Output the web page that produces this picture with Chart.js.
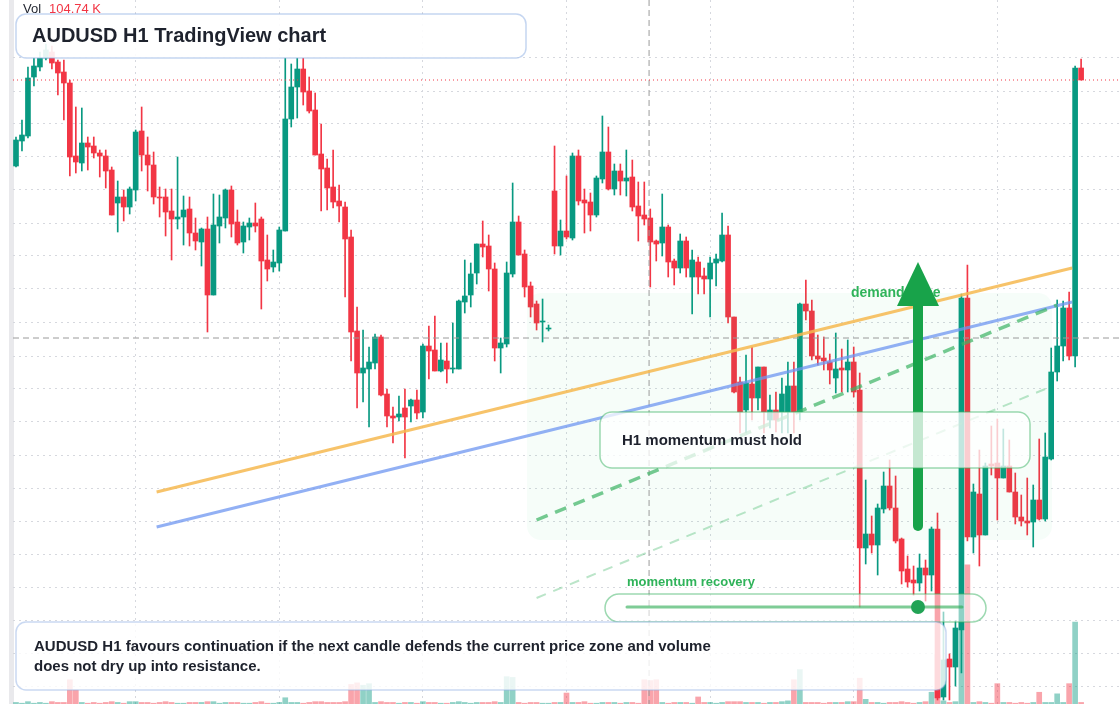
<!DOCTYPE html>
<html>
<head>
<meta charset="utf-8">
<script src="https://cdn.jsdelivr.net/npm/chart.js@4"></script>
<style>
  html, body { margin: 0; padding: 0; background: #fff; }
  #wrap { position: relative; width: 1120px; height: 704px; }
</style>
</head>
<body>
<div id="wrap"><canvas id="chart" width="1120" height="704"></canvas></div>
<script>
// AUDUSD H1 candles
const opens = [0.6834,0.6859,0.6864,0.6923,0.6933,0.6942,0.6948,0.6938,0.6928,0.6917,0.6844,0.6837,0.6857,0.6854,0.6847,0.6844,0.6830,0.6797,0.6803,0.6793,
  0.6810,0.6869,0.6845,0.6835,0.6803,0.6803,0.6789,0.6781,0.6783,0.6791,0.6767,0.6758,0.6771,0.6705,0.6774,0.6782,0.6810,0.6778,0.6758,0.6773,
  0.6777,0.6781,0.6740,0.6733,0.6737,0.6769,0.6881,0.6913,0.6931,0.6909,0.6890,0.6846,0.6832,0.6813,0.6799,0.6793,0.6763,0.6669,0.6627,0.6631,
  0.6637,0.6663,0.6606,0.6584,0.6583,0.6592,0.6594,0.6600,0.6588,0.6654,0.6650,0.6629,0.6639,0.6631,0.6631,0.6698,0.6705,0.6727,0.6756,0.6754,
  0.6731,0.6652,0.6656,0.6726,0.6778,0.6746,0.6714,0.6696,0.6678,0.6671,0.6809,0.6754,0.6769,0.6762,0.6844,0.6800,0.6798,0.6785,0.6821,0.6848,
  0.6811,0.6829,0.6819,0.6823,0.6794,0.6785,0.6782,0.6759,0.6757,0.6773,0.6739,0.6732,0.6759,0.6723,0.6738,0.6724,0.6721,0.6737,0.6739,0.6765,
  0.6683,0.6618,0.6590,0.6616,0.6602,0.6633,0.6580,0.6590,0.6588,0.6588,0.6614,0.6588,0.6696,0.6689,0.6644,0.6642,0.6638,0.6622,0.6632,0.6630,
  0.6638,0.6610,0.6452,0.6466,0.6455,0.6491,0.6514,0.6492,0.6461,0.6431,0.6420,0.6417,0.6432,0.6425,0.6471,0.6303,0.6341,0.6333,0.6370,0.6702,
  0.6463,0.6506,0.6465,0.6536,0.6537,0.6522,0.6534,0.6508,0.6483,0.6479,0.6478,0.6500,0.6481,0.6541,0.6628,0.6654,0.6692,0.6644,0.6932];
const highs = [0.6863,0.6880,0.6933,0.6942,0.6948,0.6956,0.6954,0.6940,0.6940,0.6920,0.6893,0.6892,0.6863,0.6863,0.6850,0.6850,0.6833,0.6819,0.6810,0.6813,
  0.6870,0.6893,0.6863,0.6848,0.6813,0.6811,0.6811,0.6843,0.6804,0.6803,0.6782,0.6772,0.6783,0.6806,0.6805,0.6811,0.6814,0.6790,0.6778,0.6782,
  0.6797,0.6783,0.6765,0.6750,0.6773,0.6942,0.6936,0.6942,0.6942,0.6923,0.6907,0.6876,0.6841,0.6850,0.6815,0.6798,0.6770,0.6693,0.6670,0.6653,
  0.6666,0.6665,0.6611,0.6593,0.6604,0.6611,0.6601,0.6610,0.6656,0.6674,0.6684,0.6657,0.6657,0.6677,0.6700,0.6740,0.6737,0.6756,0.6779,0.6765,
  0.6737,0.6662,0.6738,0.6817,0.6784,0.6750,0.6718,0.6699,0.6701,0.6675,0.6854,0.6780,0.6824,0.6847,0.6850,0.6811,0.6807,0.6824,0.6884,0.6873,
  0.6836,0.6836,0.6850,0.6840,0.6818,0.6818,0.6791,0.6760,0.6806,0.6775,0.6741,0.6766,0.6763,0.6750,0.6743,0.6732,0.6743,0.6746,0.6787,0.6774,
  0.6683,0.6623,0.6645,0.6653,0.6633,0.6633,0.6605,0.6608,0.6622,0.6638,0.6638,0.6697,0.6720,0.6700,0.6665,0.6663,0.6646,0.6667,0.6651,0.6660,
  0.6653,0.6627,0.6520,0.6484,0.6496,0.6528,0.6540,0.6524,0.6462,0.6444,0.6434,0.6446,0.6440,0.6473,0.6487,0.6388,0.6346,0.6379,0.6706,0.6735,
  0.6516,0.6550,0.6537,0.6574,0.6581,0.6571,0.6560,0.6527,0.6505,0.6522,0.6515,0.6561,0.6567,0.6652,0.6700,0.6699,0.6708,0.6934,0.6941];
const lows = [0.6833,0.6849,0.6862,0.6914,0.6929,0.6940,0.6931,0.6905,0.6880,0.6824,0.6827,0.6829,0.6830,0.6842,0.6823,0.6812,0.6785,0.6768,0.6779,0.6786,
  0.6799,0.6829,0.6809,0.6796,0.6783,0.6764,0.6740,0.6771,0.6755,0.6754,0.6750,0.6734,0.6668,0.6705,0.6757,0.6772,0.6763,0.6755,0.6747,0.6760,
  0.6768,0.6691,0.6719,0.6728,0.6729,0.6769,0.6873,0.6882,0.6895,0.6887,0.6845,0.6789,0.6790,0.6792,0.6778,0.6703,0.6639,0.6592,0.6598,0.6573,
  0.6631,0.6604,0.6573,0.6557,0.6579,0.6542,0.6578,0.6581,0.6582,0.6621,0.6629,0.6628,0.6617,0.6627,0.6631,0.6687,0.6693,0.6716,0.6743,0.6709,
  0.6639,0.6627,0.6653,0.6723,0.6745,0.6703,0.6683,0.6670,0.6658,0.6669,0.6746,0.6745,0.6761,0.6760,0.6795,0.6767,0.6769,0.6783,0.6817,0.6810,
  0.6805,0.6805,0.6804,0.6789,0.6759,0.6775,0.6713,0.6739,0.6744,0.6723,0.6715,0.6727,0.6723,0.6686,0.6706,0.6706,0.6683,0.6714,0.6738,0.6677,
  0.6607,0.6567,0.6567,0.6580,0.6590,0.6567,0.6572,0.6568,0.6567,0.6567,0.6567,0.6580,0.6680,0.6640,0.6635,0.6630,0.6616,0.6607,0.6608,0.6608,
  0.6603,0.6393,0.6436,0.6447,0.6425,0.6487,0.6490,0.6457,0.6416,0.6413,0.6405,0.6409,0.6399,0.6409,0.6300,0.6300,0.6300,0.6314,0.6327,0.6459,
  0.6447,0.6434,0.6465,0.6525,0.6480,0.6522,0.6508,0.6476,0.6474,0.6465,0.6453,0.6480,0.6479,0.6540,0.6619,0.6639,0.6640,0.6633,0.6920];
const closes = [0.6860,0.6865,0.6922,0.6934,0.6942,0.6950,0.6937,0.6927,0.6917,0.6843,0.6838,0.6857,0.6853,0.6847,0.6844,0.6829,0.6785,0.6803,0.6793,0.6811,
  0.6868,0.6845,0.6835,0.6803,0.6802,0.6788,0.6781,0.6783,0.6790,0.6767,0.6759,0.6771,0.6705,0.6775,0.6783,0.6810,0.6776,0.6757,0.6774,0.6777,
  0.6774,0.6739,0.6731,0.6738,0.6770,0.6881,0.6913,0.6931,0.6908,0.6889,0.6845,0.6831,0.6812,0.6798,0.6794,0.6761,0.6668,0.6627,0.6632,0.6638,
  0.6663,0.6605,0.6584,0.6582,0.6586,0.6583,0.6600,0.6587,0.6654,0.6649,0.6629,0.6640,0.6631,0.6632,0.6699,0.6704,0.6726,0.6756,0.6753,0.6731,
  0.6652,0.6657,0.6727,0.6778,0.6745,0.6713,0.6693,0.6677,0.6679,0.6672,0.6754,0.6769,0.6763,0.6844,0.6799,0.6797,0.6785,0.6822,0.6848,0.6811,
  0.6829,0.6819,0.6822,0.6793,0.6784,0.6781,0.6758,0.6756,0.6773,0.6738,0.6732,0.6759,0.6732,0.6740,0.6723,0.6721,0.6737,0.6741,0.6765,0.6683,
  0.6608,0.6588,0.6617,0.6602,0.6633,0.6588,0.6590,0.6580,0.6606,0.6614,0.6588,0.6696,0.6689,0.6644,0.6641,0.6639,0.6630,0.6631,0.6630,0.6638,
  0.6608,0.6452,0.6466,0.6455,0.6492,0.6514,0.6492,0.6459,0.6429,0.6418,0.6417,0.6432,0.6425,0.6471,0.6302,0.6340,0.6333,0.6372,0.6702,0.6463,
  0.6508,0.6465,0.6534,0.6534,0.6522,0.6534,0.6508,0.6483,0.6479,0.6477,0.6500,0.6481,0.6543,0.6628,0.6654,0.6692,0.6644,0.6932,0.6920];
// volume in thousands
const volumes = [2,1,3,1,2,1,3,2,2,31,18,2,1,2,1,2,3,2,1,3,
  3,2,2,1,2,3,2,1,1,2,2,2,3,3,1,2,2,2,1,1,
  2,3,1,1,2,8,2,2,1,2,3,3,2,2,2,3,25,27,24,26,
  2,3,2,2,1,2,2,1,3,2,2,1,1,2,3,2,1,2,2,2,
  3,2,35,34,2,1,2,2,1,1,2,2,14,2,2,3,1,1,2,2,
  2,1,2,2,1,31,30,31,2,1,2,2,2,1,9,2,2,1,2,3,
  3,3,2,2,2,1,2,2,3,4,31,44,2,2,2,1,2,2,2,3,
  3,33,6,2,2,1,2,2,3,2,1,2,3,15,63,4,2,3,105,178,
  2,3,2,1,26,2,2,1,2,1,2,15,2,2,13,2,26,104.74,2];

const slotCount = 185;             // a few empty slots on the right
const gridSlots = [20, 44, 68, 92, 116, 140, 164];
const gridPrices = [0.6942,0.6909,0.6876,0.6843,0.6810,0.6777,0.6744,0.6711,0.6678,0.6644,
  0.6611,0.6578,0.6545,0.6512,0.6479,0.6446,0.6413,0.6380,0.6347,0.6314];

// annotation lines: [slot, price] endpoints
const orangeLine = [[23.5, 0.6508], [176.5, 0.6732]];
const blueLine = [[23.5, 0.6473], [176.5, 0.6698]];
const greenDash = [[87, 0.6480], [174, 0.6695]];
const greenDashLight = [[87, 0.6402], [172, 0.6611]];
const crossSlot = 105.8, crossPrice = 0.6662;

const UP = '#089981', DOWN = '#f23645';
const labels = Array.from({ length: slotCount }, (_, i) => String(i));
const isUp = opens.map((o, i) => closes[i] >= o);
const candleColors = isUp.map(u => u ? UP : DOWN);
const volColors = isUp.map(u => u ? 'rgba(8,153,129,0.45)' : 'rgba(242,54,69,0.45)');

const overlay = {
  id: 'overlay',
  beforeDraw(chart) {
    const ctx = chart.ctx;
    ctx.save();
    ctx.fillStyle = '#e9e9ec';
    ctx.fillRect(9, 0, 5, 704);
    ctx.restore();
  },
  afterDatasetsDraw(chart) {
    const ctx = chart.ctx, xs = chart.scales.x, ys = chart.scales.y;
    const px = s => xs.getPixelForValue(s);
    const py = p => ys.getPixelForValue(p);
    const seg = (pts, color, w, dash) => {
      ctx.save();
      ctx.strokeStyle = color; ctx.lineWidth = w; ctx.setLineDash(dash || []);
      ctx.beginPath();
      ctx.moveTo(px(pts[0][0]), py(pts[0][1]));
      ctx.lineTo(px(pts[1][0]), py(pts[1][1]));
      ctx.stroke();
      ctx.restore();
    };
    ctx.save();
    // demand zone
    ctx.fillStyle = 'rgba(34,197,94,0.04)';
    ctx.beginPath(); ctx.roundRect(527, 293, 525, 247, 14); ctx.fill();
    // crosshair + last price
    ctx.strokeStyle = '#9a9a9a'; ctx.lineWidth = 1; ctx.setLineDash([6, 4]);
    ctx.beginPath();
    ctx.moveTo(13, py(crossPrice)); ctx.lineTo(1120, py(crossPrice));
    ctx.moveTo(px(crossSlot), 0); ctx.lineTo(px(crossSlot), 704);
    ctx.stroke();
    ctx.strokeStyle = DOWN; ctx.setLineDash([1, 3]);
    const last = closes[closes.length - 1];
    ctx.beginPath(); ctx.moveTo(13, py(last)); ctx.lineTo(1120, py(last)); ctx.stroke();
    ctx.restore();

    seg(orangeLine, 'rgba(246,184,80,0.85)', 3);
    seg(blueLine, 'rgba(110,150,240,0.75)', 3);
    seg(greenDash, 'rgba(60,180,100,0.7)', 3.5, [12, 8]);
    seg(greenDashLight, 'rgba(60,180,100,0.35)', 2, [10, 8]);

    ctx.save();
    ctx.font = 'bold 14px "Liberation Sans", Arial, sans-serif';
    ctx.fillStyle = '#2fb35a';
    ctx.textBaseline = 'middle';
    ctx.fillText('demand zone', 851, 293);
    // arrow
    ctx.strokeStyle = '#18a34a'; ctx.fillStyle = '#18a34a';
    ctx.lineWidth = 10; ctx.lineCap = 'round';
    ctx.beginPath(); ctx.moveTo(918, 526); ctx.lineTo(918, 300); ctx.stroke();
    ctx.beginPath(); ctx.moveTo(918, 262); ctx.lineTo(939, 306); ctx.lineTo(897, 306); ctx.closePath(); ctx.fill();

    const box = (x, y, w, h, r, stroke, fill) => {
      ctx.beginPath(); ctx.roundRect(x, y, w, h, r);
      ctx.fillStyle = fill; ctx.fill();
      ctx.lineWidth = 1.5; ctx.strokeStyle = stroke; ctx.stroke();
    };
    box(600, 412, 430, 56, 12, 'rgba(60,180,100,0.5)', 'rgba(255,255,255,0.75)');
    ctx.fillStyle = '#1e222d'; ctx.font = 'bold 15px "Liberation Sans", Arial, sans-serif';
    ctx.fillText('H1 momentum must hold', 622, 441);

    ctx.fillStyle = '#2fb35a'; ctx.font = 'bold 13px "Liberation Sans", Arial, sans-serif';
    ctx.fillText('momentum recovery', 627, 582);
    box(605, 594, 381, 28, 14, 'rgba(60,180,100,0.5)', 'rgba(255,255,255,0.55)');
    ctx.strokeStyle = 'rgba(40,170,80,0.6)'; ctx.lineWidth = 3; ctx.lineCap = 'round';
    ctx.beginPath(); ctx.moveTo(627, 607); ctx.lineTo(962, 607); ctx.stroke();
    ctx.fillStyle = '#22a355';
    ctx.beginPath(); ctx.arc(918, 607, 7, 0, Math.PI * 2); ctx.fill();

    box(16, 622, 930, 68, 10, 'rgba(150,180,230,0.5)', 'rgba(255,255,255,0.82)');
    ctx.fillStyle = '#1e222d'; ctx.font = 'bold 15px "Liberation Sans", Arial, sans-serif';
    ctx.fillText('AUDUSD H1 favours continuation if the next candle defends the current price zone and volume', 34, 647);
    ctx.fillText('does not dry up into resistance.', 34, 667);

    box(16, 14, 510, 44, 10, 'rgba(150,180,230,0.55)', 'rgba(255,255,255,0.9)');
    ctx.fillStyle = '#1e222d'; ctx.font = 'bold 20px "Liberation Sans", Arial, sans-serif';
    ctx.fillText('AUDUSD H1 TradingView chart', 32, 36);

    ctx.font = '13px "Liberation Sans", Arial, sans-serif';
    ctx.fillStyle = '#1e222d'; ctx.fillText('Vol', 23, 9);
    ctx.fillStyle = DOWN; ctx.fillText(volumes[177] + ' K', 49, 9);
    ctx.restore();
  }
};

new Chart(document.getElementById('chart'), {
  type: 'bar',
  data: {
    labels: labels,
    datasets: [
      { data: opens.map((o, i) => [o, closes[i] === o ? o + 0.00005 : closes[i]]), backgroundColor: candleColors,
        barThickness: 5, grouped: false, order: 1, yAxisID: 'y' },
      { data: lows.map((l, i) => [l, highs[i]]), backgroundColor: candleColors,
        barThickness: 1, grouped: false, order: 2, yAxisID: 'y' },
      { data: volumes, backgroundColor: volColors, barThickness: 5, grouped: false, order: 3, yAxisID: 'yv' }
    ]
  },
  options: {
    responsive: false,
    animation: false,
    layout: { padding: { left: 13, right: 0, top: 0, bottom: 0 } },
    plugins: { legend: { display: false }, tooltip: { enabled: false } },
    scales: {
      x: {
        ticks: { display: false },
        grid: { color: '#d6d8de', offset: false, drawTicks: false },
        border: { display: false, dash: [2, 4] },
        afterBuildTicks: s => { s.ticks = gridSlots.map(v => ({ value: v })); }
      },
      y: {
        min: 0.6296, max: 0.7,
        ticks: { display: false },
        grid: { color: '#d6d8de', drawTicks: false },
        border: { display: false, dash: [2, 4] },
        afterBuildTicks: s => { s.ticks = gridPrices.map(v => ({ value: v })); }
      },
      yv: { display: false, min: 0, max: 900 }
    }
  },
  plugins: [overlay]
});
</script>
</body>
</html>
